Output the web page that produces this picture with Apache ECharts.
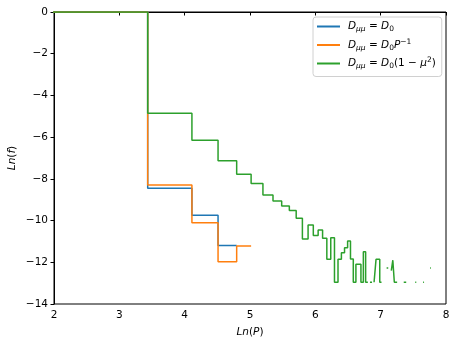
<!DOCTYPE html>
<html>
<head>
<meta charset="utf-8">
<script src="https://cdn.jsdelivr.net/npm/echarts@6/dist/echarts.min.js"></script>
<style>
html,body{margin:0;padding:0;background:#fff;}
#chart{width:458px;height:346px;}
</style>
</head>
<body>
<div id="chart"></div>
<script>
// Bin edges on the Ln(P) axis
const binEdges = [0, 3.434, 4.111, 4.511, 4.796, 5.017, 5.198, 5.352, 5.485, 5.602,
  5.707, 5.802, 5.889, 5.969, 6.043, 6.111, 6.176, 6.236, 6.293, 6.347,
  6.399, 6.447, 6.494, 6.538, 6.581, 6.621, 6.661, 6.698, 6.735, 6.770,
  6.804, 6.836, 6.868, 6.899, 6.929, 6.957, 6.986, 7.013, 7.040, 7.066,
  7.091, 7.116, 7.140, 7.163, 7.186, 7.209, 7.231, 7.252, 7.273, 7.294,
  7.314, 7.334, 7.353, 7.372, 7.391, 7.409, 7.427, 7.445, 7.462, 7.479,
  7.496, 7.513, 7.529, 7.545, 7.561, 7.576, 7.591, 7.607, 7.621, 7.636,
  7.650, 7.664, 7.678, 7.692, 7.706, 7.719, 7.732, 7.746, 7.758, 7.771];

// Ln(f) per bin (null = empty bin)
const blueVals = [0, -8.45, -9.75, -11.20];
const orangeVals = [0, -8.30, -10.10, -11.97, -11.22];
const greenVals = [
  0, -4.85, -6.15, -7.13, -7.78, -8.22, -8.77, -9.06, -9.30, -9.52,
  -9.89, -10.88, -10.21, -10.72, -10.45, -10.85, -11.86, -10.82, -12.96, -11.86,
  -11.54, -11.30, -10.98, -11.84, -12.96, -12.10, -12.10, -12.96, -11.50, -12.96,
  null, -12.96, null, -12.96, -11.86, -11.86, -12.96, null, null, null,
  -12.27, null, null, -12.40, -11.90, -12.96, -12.96, null, null, null,
  null, null, -12.96, -12.96, null, null, null, null, null, null,
  null, null, -12.96, null, null, null, null, null, null, null,
  -12.96, null, null, null, null, null, null, null, -12.27];

const seriesNames = ['Dμμ = D0', 'Dμμ = D0P−1', 'Dμμ = D0(1 − μ2)'];
const seriesColors = ['#1f77b4', '#ff7f0e', '#2ca02c'];
const legendRich = {
  'Dμμ = D0': '{i|D}{sb|μμ}{n| = }{i|D}{sbn|0}',
  'Dμμ = D0P−1': '{i|D}{sb|μμ}{n| = }{i|D}{sbn|0}{i|P}{sp|−1}',
  'Dμμ = D0(1 − μ2)': '{i|D}{sb|μμ}{n| = }{i|D}{sbn|0}{n|(1 − }{i|μ}{sp|2}{n|)}'
};
const xTicks = [2, 8, 1];
const yTicks = [-14, 0, 2];

function stepData(vals) {
  const out = [];
  let prev = null;
  for (let i = 0; i < vals.length; i++) {
    const v = vals[i];
    if (v === null) { prev = null; continue; }
    if (prev === null && out.length) out.push(['-', '-']);
    out.push([binEdges[i], v]);
    out.push([binEdges[i + 1], v]);
    prev = v;
  }
  return out;
}

const allVals = [blueVals, orangeVals, greenVals];
const chart = echarts.init(document.getElementById('chart'), null, {renderer: 'canvas'});
const FONT = 'DejaVu Sans';
const minus = s => String(s).replace('-', '−');

chart.setOption({
  animation: false,
  backgroundColor: '#fff',
  textStyle: {fontFamily: FONT},
  grid: {left: 54, right: 12, top: 12, bottom: 42, containLabel: false, outerBoundsMode: 'none',
    show: true, borderColor: '#000', borderWidth: 1, backgroundColor: 'transparent'},
  legend: {
    orient: 'vertical',
    left: 313, top: 17,
    padding: [4, 6, 6, 4],
    itemGap: 4.5,
    itemWidth: 23, itemHeight: 2,
    icon: 'rect',
    backgroundColor: 'rgba(255,255,255,0.8)',
    borderColor: '#d0d0d0', borderWidth: 1, borderRadius: 3,
    data: seriesNames,
    formatter: n => legendRich[n],
    textStyle: {
      fontFamily: FONT, fontSize: 10.5, color: '#000', padding: [0, 0, 0, 3],
      rich: {
        i: {fontFamily: FONT, fontStyle: 'italic', fontSize: 10.5, color: '#000'},
        n: {fontFamily: FONT, fontSize: 10.5, color: '#000'},
        sb: {fontFamily: FONT, fontStyle: 'italic', fontSize: 7.5, color: '#000', padding: [6, 0, 0, 0]},
        sbn: {fontFamily: FONT, fontSize: 7.5, color: '#000', padding: [6, 0, 0, 0]},
        sp: {fontFamily: FONT, fontSize: 7.5, color: '#000', padding: [0, 0, 6, 0]}
      }
    }
  },
  xAxis: {
    type: 'value', min: xTicks[0], max: xTicks[1], interval: xTicks[2],
    name: '{i|Ln}{n|(}{i|P}{n|)}', nameLocation: 'middle', nameGap: 23,
    nameTextStyle: {rich: {i: {fontFamily: FONT, fontStyle: 'italic', fontSize: 10.5, color: '#000'}, n: {fontFamily: FONT, fontSize: 10.5, color: '#000'}}},
    axisLine: {show: true, lineStyle: {color: '#000', width: 1}},
    axisTick: {show: true, length: 3.5, lineStyle: {color: '#000', width: 1}},
    axisLabel: {color: '#000', fontSize: 10.5, fontFamily: FONT, margin: 6},
    splitLine: {show: false}
  },
  yAxis: {
    type: 'value', min: yTicks[0], max: yTicks[1], interval: yTicks[2],
    name: '{i|Ln}{n|(}{i|f}{n|)}', nameLocation: 'middle', nameGap: 36, nameRotate: 90,
    nameMoveOverlap: false,
    nameTextStyle: {rich: {i: {fontFamily: FONT, fontStyle: 'italic', fontSize: 10.5, color: '#000'}, n: {fontFamily: FONT, fontSize: 10.5, color: '#000'}}},
    axisLine: {show: true, lineStyle: {color: '#000', width: 1}},
    axisTick: {show: true, length: 3.5, lineStyle: {color: '#000', width: 1}},
    axisLabel: {color: '#000', fontSize: 10.5, fontFamily: FONT, margin: 6, formatter: v => minus(v)},
    splitLine: {show: false}
  },
  series: seriesNames.map((name, k) => ({
    name: name,
    type: 'line',
    data: stepData(allVals[k]),
    showSymbol: false,
    symbol: 'none',
    clip: true,
    connectNulls: false,
    color: seriesColors[k],
    lineStyle: {color: seriesColors[k], width: 1.5},
    z: 2 + k
  }))
});
</script>
</body>
</html>
